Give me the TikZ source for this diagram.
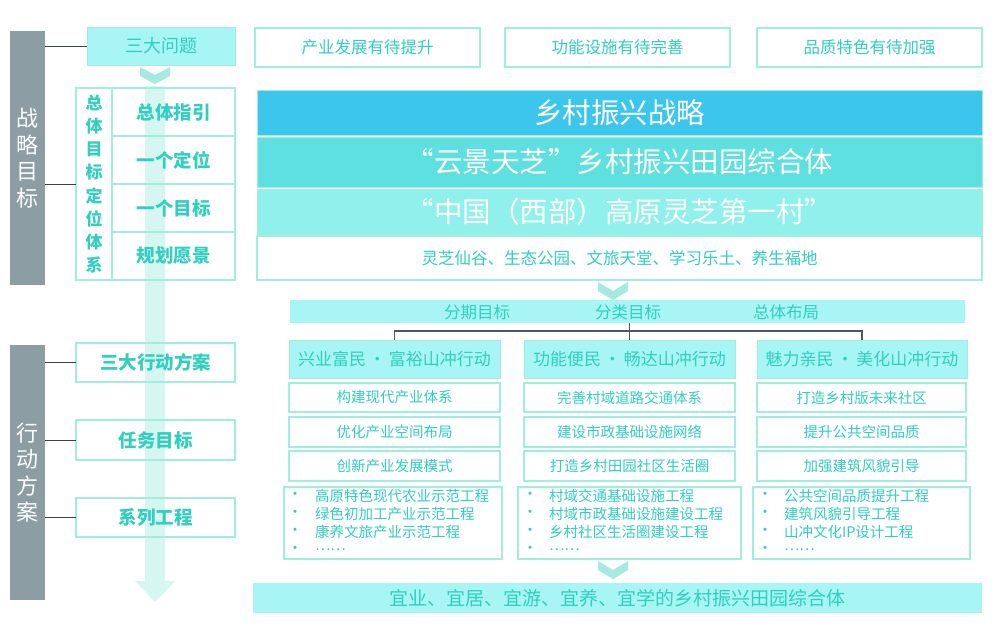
\documentclass[tikz,border=0pt]{standalone}
\usepackage{fontspec}
\newfontfamily\cjk{Noto Sans CJK SC}
\definecolor{gry}{HTML}{8C9DA3}
\definecolor{tc}{HTML}{30CFBF}
\definecolor{bd}{HTML}{A0EEDC}
\definecolor{lc}{HTML}{A8F5F5}
\definecolor{ban1}{HTML}{3CC6EE}
\definecolor{ban2}{HTML}{5EDFE0}
\definecolor{ban3}{HTML}{8FF0EC}
\definecolor{pale}{HTML}{D6F7F1}
\definecolor{chev}{HTML}{A6E9DE}
\definecolor{lnc}{HTML}{3A4448}
\newcommand\fs[2]{\fontsize{#1}{#2}\selectfont}
\newcommand\bx[7]{\node[#6, minimum width={#4-#2}, minimum height={#5-#3}] (#1) at ({(#2+#4)/2},{(#3+#5)/2}) {#7};}
\begin{document}
\begin{tikzpicture}[x=1pt,y=-1pt,
  every node/.style={inner sep=0pt, outer sep=0pt, font=\cjk},
  bar/.style={fill=gry, text=white, align=center, font=\cjk\fs{22}{26.5}},
  lbox/.style={draw=bd, line width=1.6pt, text=tc},
  fbox/.style={fill=lc, draw=bd, line width=0.6pt, text=tc},
  banner/.style={draw=bd, line width=0.6pt, text=white, font=\cjk\fs{28.5}{30}},
  conn/.style={draw=lnc, line width=0.9pt},
  tree/.style={draw=lnc!90, line width=1.1pt},
  chevr/.style={fill=chev},
  ttxt/.style={text=tc, font=\cjk\fs{16.5}{18}},
  btxt/.style={text=tc, font=\cjk\fs{14.5}{15}, anchor=west},
  bul/.style={text=tc, font=\cjk\fs{15}{15}}
]
\useasboundingbox (0,0) rectangle (1000,638);
\fill[white] (0,0) rectangle (1000,638);

% pale vertical arrow
\fill[pale] (145,86) -- (165,86) -- (165,581) -- (175,581) -- (155,602) -- (135,581) -- (145,581) -- cycle;

% left bars
\bx{barA}{10}{31}{45}{285}{bar}{战\\略\\目\\标}
\bx{barB}{10}{345}{45}{600}{bar}{行\\动\\方\\案}

% top row
\bx{sanda}{87}{27}{235}{65}{fbox, font=\cjk\fs{18}{20}}{三大问题}
\bx{p1}{255}{28}{480}{67}{lbox, font=\cjk\fs{16.5}{18}}{产业发展有待提升}
\bx{p2}{505}{28}{730}{67}{lbox, font=\cjk\fs{16.5}{18}}{功能设施有待完善}
\bx{p3}{757}{28}{982}{67}{lbox, font=\cjk\fs{16.5}{18}}{品质特色有待加强}

\fill[chevr] (140,67) -- (155,75) -- (170,67) -- (170,76) -- (155,84) -- (140,76) -- cycle;

% goal system
\bx{gsys}{76}{88}{235}{280}{lbox}{}
\bx{gcol}{76}{88}{112}{280}{lbox, align=center, font=\cjk\bfseries\fs{17}{23.2}}{总\\体\\目\\标\\定\\位\\体\\系}
\bx{g1}{112}{88}{235}{136}{lbox, font=\cjk\bfseries\fs{18.5}{20}}{总体指引}
\bx{g2}{112}{136}{235}{184}{lbox, font=\cjk\bfseries\fs{18.5}{20}}{一个定位}
\bx{g3}{112}{184}{235}{232}{lbox, font=\cjk\bfseries\fs{18.5}{20}}{一个目标}
\bx{g4}{112}{232}{235}{280}{lbox, font=\cjk\bfseries\fs{18.5}{20}}{规划愿景}

\draw[conn] (barA.east |- sanda.west) -- (sanda.west);
\draw[conn] (barA.east |- gsys.west) -- (gsys.west);

% banners
\bx{b1}{257}{90}{982}{135}{banner, fill=ban1}{乡村振兴战略}
\bx{b2}{257}{137}{982}{187}{banner, fill=ban2}{“云景天芝”乡村振兴田园综合体}
\bx{b3}{257}{189}{982}{235}{banner, fill=ban3}{“中国（西部）高原灵芝第一村”}
\bx{b4}{257}{236}{982}{280}{lbox, font=\cjk\fs{16.5}{18}}{灵芝仙谷、生态公园、文旅天堂、学习乐土、养生福地}

\fill[chevr] (598,282) -- (613,291) -- (628,282) -- (628,291) -- (613,300) -- (598,291) -- cycle;

% phase band
\bx{phase}{290}{300}{965}{323}{fill=lc}{}
\node[ttxt] (f1) at (477,312) {分期目标};
\node[ttxt] (f2) at (628,312) {分类目标};
\node[ttxt] (f3) at (786,312) {总体布局};

% action headers
\bx{h1}{289}{340}{500}{378}{fbox, font=\cjk\fs{17}{19}}{兴业富民\,·\,富裕山冲行动}
\bx{h2}{524}{340}{735}{378}{fbox, font=\cjk\fs{17}{19}}{功能便民\,·\,畅达山冲行动}
\bx{h3}{757}{340}{967}{378}{fbox, font=\cjk\fs{17}{19}}{魅力亲民\,·\,美化山冲行动}

\coordinate (jn) at (h2.north |- 0,331);
\draw[tree] (phase.south -| h2.north) -- (h2.north);
\draw[tree] (h1.north) |- (jn) -| (h3.north);

% task boxes
\bx{t11}{289}{383}{500}{412}{lbox, font=\cjk\fs{14.5}{16}}{构建现代产业体系}
\bx{t12}{289}{417}{500}{447}{lbox, font=\cjk\fs{14.5}{16}}{优化产业空间布局}
\bx{t13}{289}{451}{500}{481}{lbox, font=\cjk\fs{14.5}{16}}{创新产业发展模式}
\bx{t21}{524}{383}{735}{412}{lbox, font=\cjk\fs{14.5}{16}}{完善村域道路交通体系}
\bx{t22}{524}{417}{735}{447}{lbox, font=\cjk\fs{14.5}{16}}{建设市政基础设施网络}
\bx{t23}{524}{451}{735}{481}{lbox, font=\cjk\fs{14.5}{16}}{打造乡村田园社区生活圈}
\bx{t31}{757}{383}{966}{412}{lbox, font=\cjk\fs{14.5}{16}}{打造乡村版未来社区}
\bx{t32}{757}{417}{966}{447}{lbox, font=\cjk\fs{14.5}{16}}{提升公共空间品质}
\bx{t33}{757}{451}{966}{481}{lbox, font=\cjk\fs{14.5}{16}}{加强建筑风貌引导}

% project boxes
\bx{s1}{284}{487}{502}{559}{lbox}{}
\bx{s2}{518}{487}{741}{559}{lbox}{}
\bx{s3}{753}{487}{970}{559}{lbox}{}

\foreach \yy [count=\i] in {496,514,532,550} {
  \node[bul] (ba\i) at (295,\yy) {•};
  \node[bul] (bb\i) at (530,\yy) {•};
  \node[bul] (bc\i) at (765,\yy) {•};
}
\node[btxt] (sa1) at (315,496) {高原特色现代农业示范工程};
\node[btxt] (sa2) at (315,514) {绿色初加工产业示范工程};
\node[btxt] (sa3) at (315,532) {康养文旅产业示范工程};
\node[btxt] (sa4) at (315,550) {……};
\node[btxt] (sb1) at (549,496) {村域交通基础设施工程};
\node[btxt] (sb2) at (549,514) {村域市政基础设施建设工程};
\node[btxt] (sb3) at (549,532) {乡村社区生活圈建设工程};
\node[btxt] (sb4) at (549,550) {……};
\node[btxt] (sc1) at (784,496) {公共空间品质提升工程};
\node[btxt] (sc2) at (784,514) {建筑风貌引导工程};
\node[btxt] (sc3) at (784,532) {山冲文化IP设计工程};
\node[btxt] (sc4) at (784,550) {……};

\fill[chevr] (598,561) -- (613,570) -- (628,561) -- (628,570) -- (613,579) -- (598,570) -- cycle;

\bx{fin}{253}{583}{982}{613}{fill=lc, text=tc, font=\cjk\fs{19}{21}}{宜业、宜居、宜游、宜养、宜学的乡村振兴田园综合体}

% left action boxes
\bx{a1}{76}{343}{235}{382}{lbox, font=\cjk\bfseries\fs{18.5}{20}}{三大行动方案}
\bx{a2}{76}{420}{235}{460}{lbox, font=\cjk\bfseries\fs{18.5}{20}}{任务目标}
\bx{a3}{76}{498}{235}{537}{lbox, font=\cjk\bfseries\fs{18.5}{20}}{系列工程}

\draw[conn] (barB.east |- a1.west) -- (a1.west);
\draw[conn] (barB.east |- a2.west) -- (a2.west);
\draw[conn] (barB.east |- a3.west) -- (a3.west);
\end{tikzpicture}
\end{document}
